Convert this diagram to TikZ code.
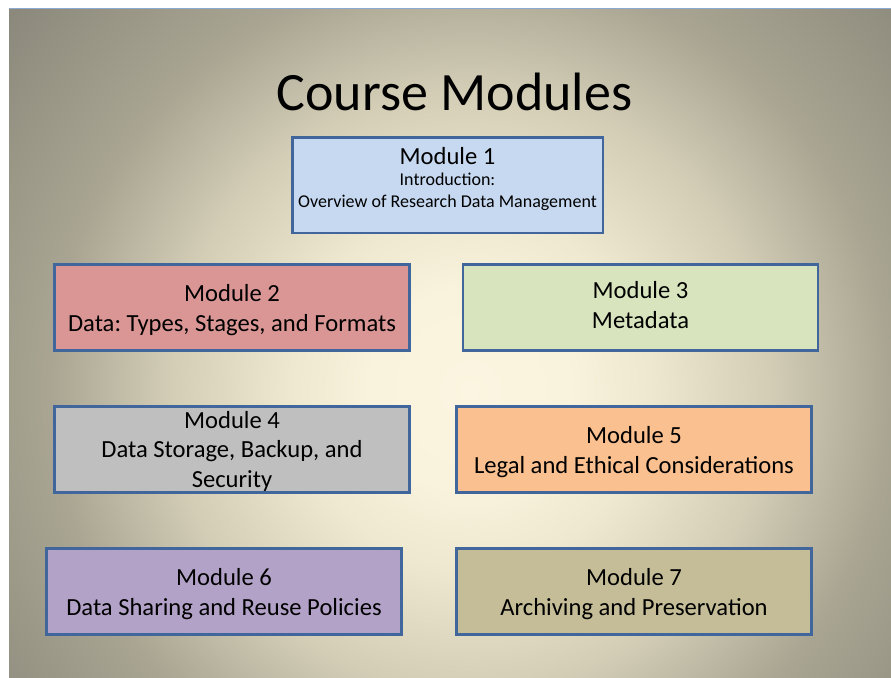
\documentclass[tikz,border=0pt]{standalone}
\usepackage{fontspec}
\setmainfont{Carlito}
\frenchspacing
\definecolor{bgA}{HTML}{FBF5E1}
\definecolor{bgB}{HTML}{F9F2DC}
\definecolor{bgC}{HTML}{EFE8D0}
\definecolor{bgD}{HTML}{D3CDB6}
\definecolor{bgE}{HTML}{A9A592}
\definecolor{bgF}{HTML}{8A887B}
\definecolor{boxline}{HTML}{41669B}
\definecolor{topline}{HTML}{8EA9CF}
\definecolor{fillA}{HTML}{C6D9F1}
\definecolor{fillB}{HTML}{D99694}
\definecolor{fillC}{HTML}{D7E4BD}
\definecolor{fillD}{HTML}{BFBFBF}
\definecolor{fillE}{HTML}{FAC08F}
\definecolor{fillF}{HTML}{B3A2C7}
\definecolor{fillG}{HTML}{C4BD97}
% radial glow: 25bp is the radius of the shaded circle
\pgfdeclareradialshading{slideglow}{\pgfpoint{0bp}{0bp}}{%
  color(0bp)=(bgA); color(4.2bp)=(bgB); color(7.5bp)=(bgC);
  color(12.5bp)=(bgD); color(17.5bp)=(bgE); color(25bp)=(bgF); color(50bp)=(bgF)}
\tikzset{
  modbox/.style={draw=boxline, line width=2.5pt, inner sep=0pt,
    minimum width=355pt, minimum height=86pt},
  modtext/.style={anchor=base, align=center, inner sep=0pt, text=black,
    font=\fontsize{24.6}{29.5}\selectfont},
}
\begin{document}
\begin{tikzpicture}[x=1pt, y=-1pt]
  \useasboundingbox (0,0) rectangle (891,677);
  \fill[white] (0,0) rectangle (891,677);
  % slide background with a soft radial glow
  \begin{scope}
    \clip (9,9) rectangle (891,677);
    \shade[shading=slideglow] (470,390) circle (600pt);
  \end{scope}
  \draw[topline, line width=1.2pt] (9,8.3) -- (891,8.3);

  \node[anchor=base, font=\fontsize{54}{60}\selectfont] (title) at (454.5,110) {Course Modules};

  % module boxes
  \node[modbox, fill=fillA, minimum width=310.5pt, minimum height=95.5pt] (m1) at (447.5,185) {};
  \node[modbox, fill=fillB] (m2) at (232,307.5) {};
  \node[modbox, fill=fillC] (m3) at (640.5,307.5) {};
  \node[modbox, fill=fillD] (m4) at (232,449.5) {};
  \node[modbox, fill=fillE] (m5) at (634,449.5) {};
  \node[modbox, fill=fillF] (m6) at (224,591.5) {};
  \node[modbox, fill=fillG] (m7) at (634,591.5) {};

  % box texts, placed on the baseline of their last line
  \node[modtext, font=\fontsize{18}{21.5}\selectfont] (t1) at (447.5,207)
    {{\fontsize{24.6}{24.6}\selectfont Module 1}\\Introduction:\\Overview of Research Data Management};
  \node[modtext] (t2) at (232,331) {Module 2\\Data: Types, Stages, and Formats};
  \node[modtext] (t3) at (640.5,328) {Module 3\\Metadata};
  \node[modtext] (t4) at (232,487) {Module 4\\Data Storage, Backup, and\\Security};
  \node[modtext] (t5) at (634,473) {Module 5\\Legal and Ethical Considerations};
  \node[modtext] (t6) at (224,615) {Module 6\\Data Sharing and Reuse Policies};
  \node[modtext] (t7) at (634,615) {Module 7\\Archiving and Preservation};
\end{tikzpicture}
\end{document}
